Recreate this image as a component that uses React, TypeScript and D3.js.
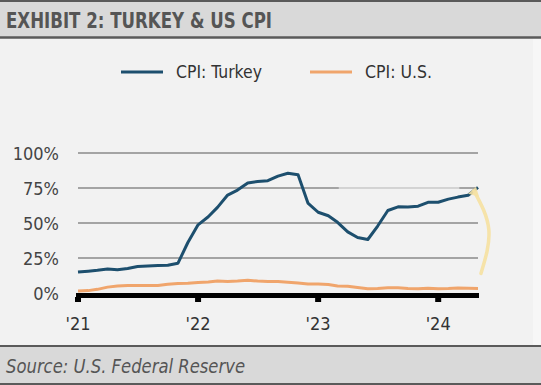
import React, { useEffect } from "react";
import * as d3 from "d3";

// monthly CPI, Jan 2021 .. May 2024 (YoY %)
const months = d3.timeMonths(new Date(2021, 0, 1), new Date(2024, 5, 1));

const turkeyCpi = [
  14.97, 15.61, 16.19, 17.14, 16.59, 17.53, 18.95, 19.25, 19.58, 19.89, 21.31, 36.08,
  48.69, 54.44, 61.14, 69.97, 73.5, 78.62, 79.6, 80.21, 83.45, 85.51, 84.39, 64.27,
  57.68, 55.18, 50.51, 43.68, 39.59, 38.21, 47.83, 58.94, 61.53, 61.36, 61.98, 64.77,
  64.86, 67.07, 68.5, 69.8, 75.45,
];

const usCpi = [
  1.4, 1.7, 2.6, 4.2, 5.0, 5.4, 5.4, 5.3, 5.4, 6.2, 6.8, 7.0,
  7.5, 7.9, 8.5, 8.3, 8.6, 9.1, 8.5, 8.3, 8.2, 7.7, 7.1, 6.5,
  6.4, 6.0, 5.0, 4.9, 4.0, 3.0, 3.2, 3.7, 3.7, 3.2, 3.1, 3.4,
  3.1, 3.2, 3.5, 3.4, 3.3,
];

const yTicks = [0, 25, 50, 75, 100];
const yearTicks = [2021, 2022, 2023, 2024];
const seriesNames = ["CPI: Turkey", "CPI: U.S."];
const seriesColors = ["#1d4f6e", "#f0a56c"];

const FONT = "'Liberation Sans Narrow', 'DejaVu Sans Condensed', 'Roboto', sans-serif";

const W = 541;
const H = 385;

export default function App() {
  useEffect(() => {
    document.body.style.margin = "0";
  }, []);

  const x = d3
    .scaleTime()
    .domain([months[0], months[months.length - 1]])
    .range([78, 478]);
  const y = d3.scaleLinear().domain([0, 100]).range([293, 153]);

  const line = d3
    .line<number>()
    .x((d, i) => x(months[i]))
    .y((d) => y(d));

  // hand-drawn highlight arrow next to the last Turkey point
  const last = months[months.length - 1];
  const arrowPts: [Date, number][] = [
    [d3.timeDay.offset(last, 9), 14],
    [d3.timeDay.offset(last, 33), 45],
    [d3.timeDay.offset(last, -12), 73],
  ];
  const arrow = d3
    .line<[Date, number]>()
    .x((d) => x(d[0]))
    .y((d) => y(d[1]))
    .curve(d3.curveNatural);

  const tip = arrowPts[2];
  const tx = x(tip[0]);
  const ty = y(tip[1]);

  const legendWidths = [86, 67];

  return (
    <svg width={W} height={H} style={{ display: "block" }}>
      <rect x={0} y={0} width={W} height={H} fill="#f7f7f7" />
      <rect x={0} y={38} width={533} height={308} fill="#f2f2f2" />

      {/* title band */}
      <rect x={0} y={2} width={W} height={35} fill="#d9d9d9" />
      <line x1={0} x2={W} y1={1} y2={1} stroke="#5a5a5a" strokeWidth={2} />
      <line x1={0} x2={W} y1={37.5} y2={37.5} stroke="#5a5a5a" strokeWidth={2.5} />
      <text
        x={6}
        y={28}
        fontFamily={FONT}
        fontWeight="bold"
        fontSize={22}
        fill="#555"
        textLength={266}
        lengthAdjust="spacingAndGlyphs"
      >
        EXHIBIT 2: TURKEY &amp; US CPI
      </text>

      {/* legend */}
      {seriesNames.map((name, i) => (
        <g key={name} transform={`translate(${i === 0 ? 121 : 310},72)`}>
          <line x1={0} x2={42} y1={0} y2={0} stroke={seriesColors[i]} strokeWidth={3} />
          <text
            x={55}
            y={6}
            fontFamily={FONT}
            fontSize={18}
            fill="#333"
            textLength={legendWidths[i]}
            lengthAdjust="spacingAndGlyphs"
          >
            {name}
          </text>
        </g>
      ))}

      {/* grid */}
      {yTicks
        .filter((t) => t > 0)
        .map((t) =>
          t === 75 ? (
            <g key={t}>
              <line x1={78} x2={x(new Date(2023, 2, 5))} y1={y(t)} y2={y(t)} stroke="#8a8a8a" strokeWidth={1.5} />
              <line
                x1={x(new Date(2023, 2, 5))}
                x2={x(new Date(2024, 2, 5))}
                y1={y(t)}
                y2={y(t)}
                stroke="#b5b5b5"
                strokeWidth={1}
              />
              <line x1={x(new Date(2024, 2, 5))} x2={478} y1={y(t)} y2={y(t)} stroke="#8a8a8a" strokeWidth={1.5} />
            </g>
          ) : (
            <line key={t} x1={78} x2={478} y1={y(t)} y2={y(t)} stroke="#8a8a8a" strokeWidth={1.5} />
          )
        )}

      {yTicks.map((t) => (
        <text
          key={t}
          x={59}
          y={y(t) + 7}
          textAnchor="end"
          fontFamily={FONT}
          fontSize={18}
          fill="#444"
        >
          {t}%
        </text>
      ))}

      {/* series */}
      <path d={line(usCpi) ?? ""} fill="none" stroke={seriesColors[1]} strokeWidth={3} strokeLinejoin="round" />
      <path d={line(turkeyCpi) ?? ""} fill="none" stroke={seriesColors[0]} strokeWidth={3} strokeLinejoin="round" />

      {/* x axis */}
      <line x1={76} x2={479} y1={y(0) + 2.5} y2={y(0) + 2.5} stroke="#000" strokeWidth={5} />
      {yearTicks.map((yr) => {
        const px = x(new Date(yr, 0, 1));
        return (
          <g key={yr}>
            <rect x={px - 3} y={y(0) + 4} width={6} height={5} fill="#000" />
            <text
              x={px}
              y={330}
              textAnchor="middle"
              fontFamily={FONT}
              fontSize={18}
              fill="#333"
            >
              {"'" + String(yr).slice(2)}
            </text>
          </g>
        );
      })}

      {/* annotation arrow */}
      <path
        d={arrow(arrowPts) ?? ""}
        fill="none"
        stroke="#f5e1a4"
        strokeWidth={3.5}
        strokeLinecap="round"
        opacity={0.95}
      />
      <path
        d={`M${tx - 6},${ty + 3} L${tx + 2},${ty - 4} L${tx + 5},${ty + 6} Z`}
        fill="#f5e1a4"
        opacity={0.9}
      />

      {/* source band */}
      <rect x={0} y={347} width={W} height={36} fill="#d9d9d9" />
      <line x1={0} x2={W} y1={346} y2={346} stroke="#5a5a5a" strokeWidth={2} />
      <line x1={0} x2={W} y1={384} y2={384} stroke="#5a5a5a" strokeWidth={2} />
      <text
        x={6}
        y={373}
        fontFamily={FONT}
        fontStyle="italic"
        fontSize={20}
        fill="#555"
        textLength={239}
        lengthAdjust="spacingAndGlyphs"
      >
        Source: U.S. Federal Reserve
      </text>
    </svg>
  );
}
